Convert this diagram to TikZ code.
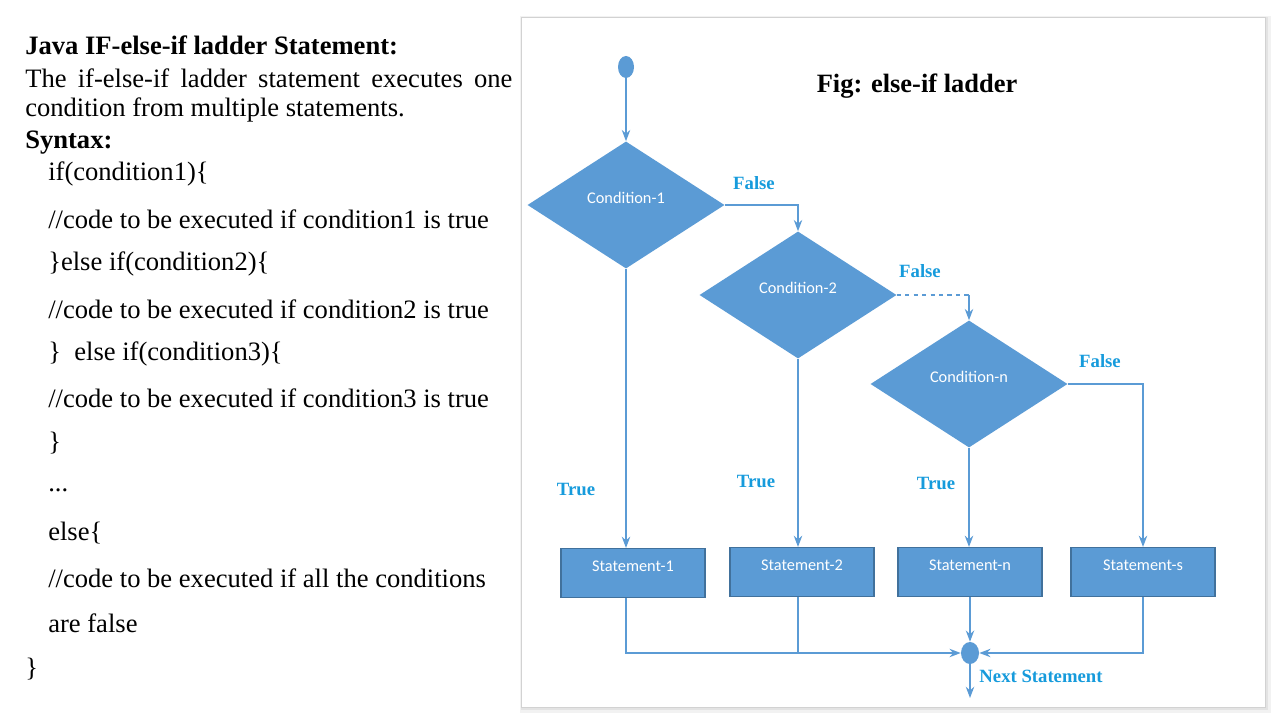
\documentclass[tikz,border=0pt]{standalone}
\usepackage{fontspec}
\setmainfont{Liberation Serif}
\newfontfamily\flowfont{Carlito}
\usetikzlibrary{shapes.geometric,arrows.meta}
\definecolor{boxblue}{RGB}{91,155,213}
\definecolor{edgeblue}{RGB}{65,113,156}
\definecolor{labelblue}{RGB}{22,155,220}

\begin{document}
\begin{tikzpicture}[x=0.025cm,y=-0.025cm,
  txt/.style={anchor=west,inner sep=0pt,font=\fontsize{18.9pt}{22pt}\selectfont},
  decision/.style={diamond,fill=boxblue,text=white,inner sep=0pt,
    minimum width=4.925cm,minimum height=3.175cm,text height=8pt,text depth=10.6pt,
    font=\flowfont\fontsize{11.6pt}{13pt}\selectfont},
  stmtbox/.style={rectangle,fill=boxblue,draw=edgeblue,line width=0.8pt,text=white,
    minimum width=3.6cm,minimum height=1.225cm,text height=8pt,text depth=10.6pt,inner sep=0pt,
    font=\flowfont\fontsize{11.6pt}{13pt}\selectfont},
  dot/.style={ellipse,fill=boxblue,inner sep=0pt},
  flow/.style={draw=boxblue,line width=1pt,-{Stealth[length=8pt,width=6pt]}},
  link/.style={draw=boxblue,line width=1pt},
  yesno/.style={text=labelblue,font=\bfseries\fontsize{13.3pt}{15pt}\selectfont}]
\useasboundingbox (0,0) rectangle (1280,720);

% Syntax text
\node[txt,font=\bfseries\fontsize{18.9pt}{22pt}\selectfont] (t1) at (25,45) {Java IF-else-if ladder Statement:};
\node[txt] (t2) at (25,78) {\makebox[12.175cm][s]{The if-else-if ladder statement executes one}};
\node[txt] (t3) at (25,110) {condition from multiple statements.};
\node[txt,font=\bfseries\fontsize{18.9pt}{22pt}\selectfont] (t4) at (25,143) {Syntax:};
\node[txt] (t5) at (48,174) {if(condition1)\{};
\node[txt] (t6) at (48,219) {//code to be executed if condition1 is true};
\node[txt] (t7) at (48,264) {\}else if(condition2)\{};
\node[txt] (t8) at (48,309) {//code to be executed if condition2 is true};
\node[txt] (t9) at (48,354) {\}\ \ else if(condition3)\{};
\node[txt] (t10) at (48,398) {//code to be executed if condition3 is true};
\node[txt] (t11) at (48,443) {\}};
\node[txt] (t12) at (48,490) {...};
\node[txt] (t13) at (48,533) {else\{};
\node[txt] (t14) at (48,578) {//code to be executed if all the conditions};
\node[txt] (t15) at (48,623) {are false};
\node[txt] (t16) at (25,669) {\}};

% Figure panel with soft shadow
\fill[gray!10] (520,16) rectangle (1271,713);
\fill[gray!22] (521,17) rectangle (1268,710);
\fill[gray!35] (521,17) rectangle (1266,708);
\fill[white] (522,18) rectangle (1265,707);
\node[font=\bfseries\fontsize{18.8pt}{22pt}\selectfont] (title) at (917,86) {Fig: else-if ladder};

% Nodes
\node[dot,minimum width=0.4cm,minimum height=0.55cm] (start) at (626,67) {};
\node[decision] (c1) at (626,205) {Condition-1};
\node[decision] (c2) at (798,295) {Condition-2};
\node[decision] (c3) at (969,384) {Condition-n};
\node[stmtbox] (s1) at (633,573) {Statement-1};
\node[stmtbox] (s2) at (802,572) {Statement-2};
\node[stmtbox] (sn) at (970,572) {Statement-n};
\node[stmtbox] (ss) at (1143,572) {Statement-s};
\node[dot,minimum width=0.45cm,minimum height=0.55cm] (merge) at (970,653) {};
\coordinate (endpt) at (970,698);

% Connectors
\draw[flow] (start) -- (c1.north);
\draw[flow] (c1.east) -| (c2.north);
\draw[link,dashed] (c2.east) -- (c2.east -| c3.north);
\draw[flow] (c2.east -| c3.north) -- (c3.north);
\draw[flow] (c3.east) -| (ss.north);
\draw[flow] (c1.south) -- (c1.south |- s1.north);
\draw[flow] (c2.south) -- (c2.south |- s2.north);
\draw[flow] (c3.south) -- (c3.south |- sn.north);
\draw[flow] (c1.south |- s1.south) |- (merge.west);
\draw[link] (c2.south |- s2.south) -- (c2.south |- merge.west);
\draw[flow] (sn.south) -- (merge.north);
\draw[flow] (ss.south) |- (merge.east);
\draw[flow] (merge.south) -- (endpt);

% Labels
\node[yesno] (f1) at (754,183) {False};
\node[yesno] (f2) at (920,271) {False};
\node[yesno] (f3) at (1100,361) {False};
\node[yesno] (y1) at (576,489) {True};
\node[yesno] (y2) at (756,481) {True};
\node[yesno] (y3) at (936,483) {True};
\node[yesno] (next) at (1041,676) {Next Statement};
\end{tikzpicture}
\end{document}
